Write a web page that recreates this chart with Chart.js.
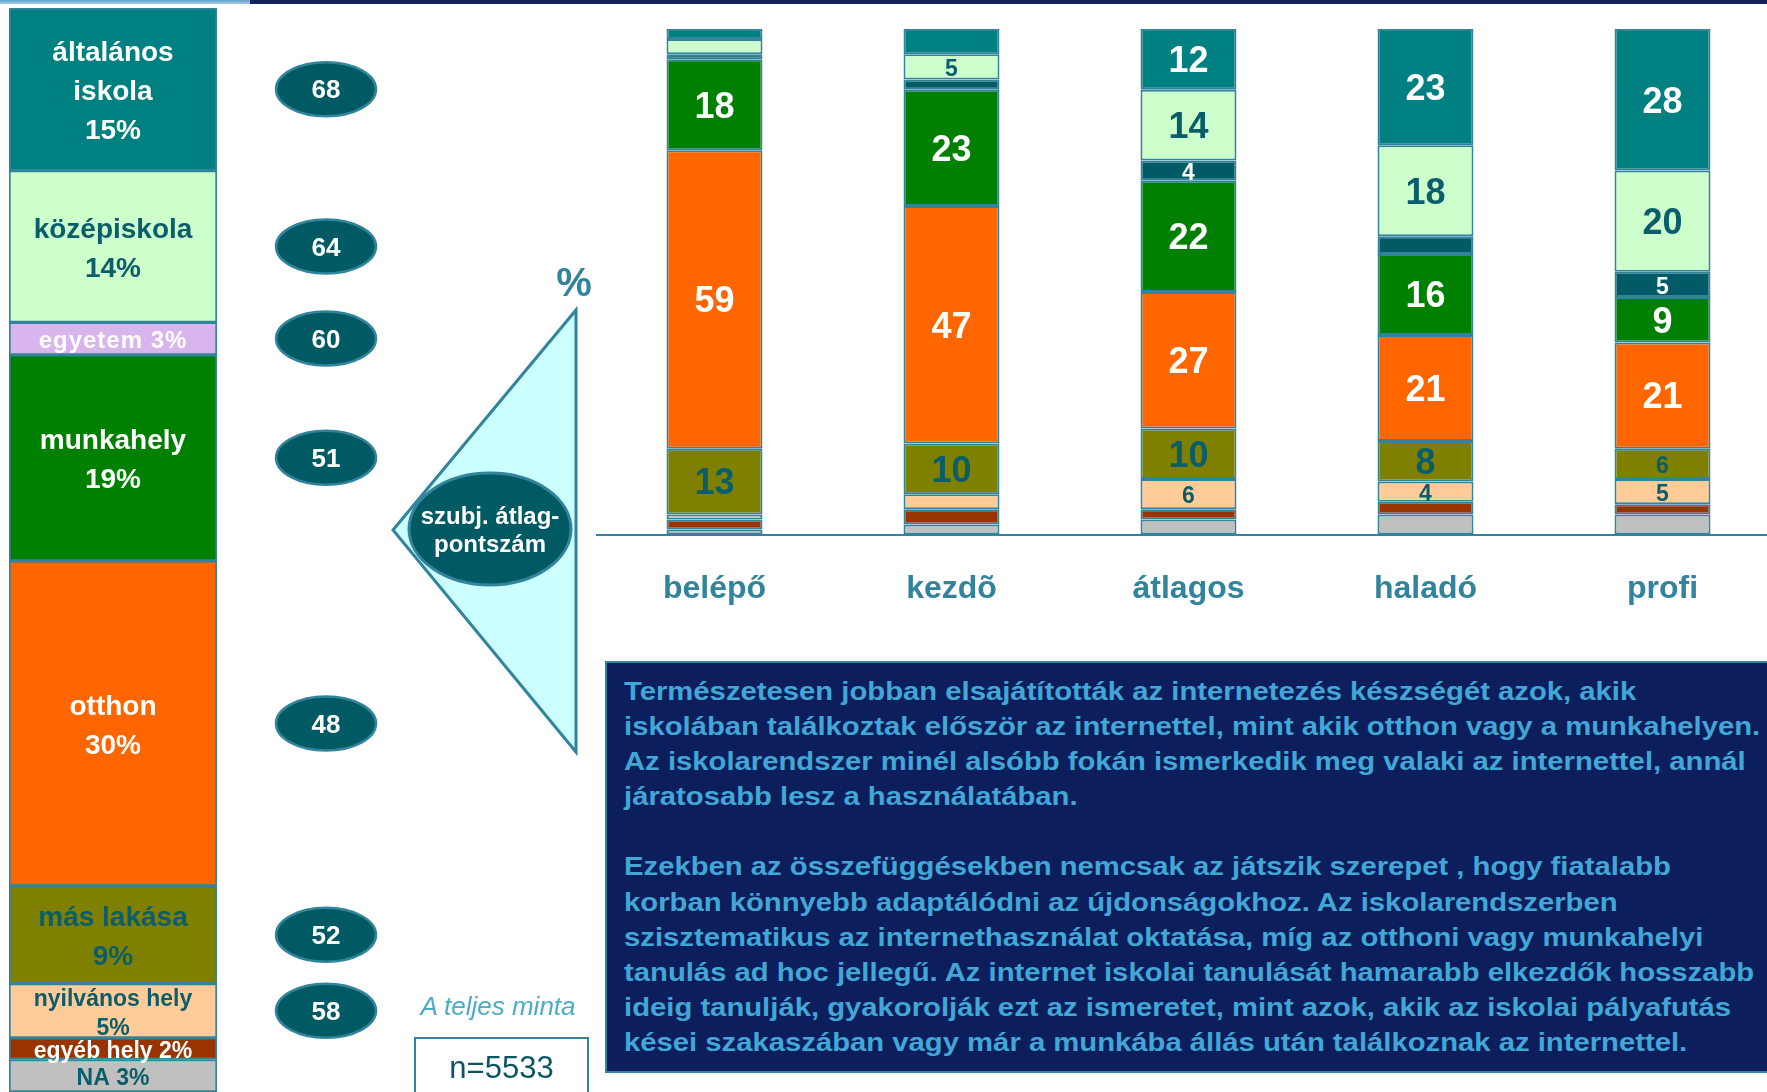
<!DOCTYPE html>
<html lang="hu">
<head>
<meta charset="utf-8">
<title>Az internet első használatának helye és a készségszint</title>
<script src="https://cdn.jsdelivr.net/npm/chart.js@4.4.1/dist/chart.umd.min.js"></script>
<style>
    html, body {
        margin: 0;
        padding: 0;
        background: #fff;
    }
    body {
        position: relative;
        width: 1767px;
        height: 1092px;
        overflow: hidden;
        font-family: "Liberation Sans", Arial, sans-serif;
    }
    .csik-vilagos {
        position: absolute; left: 0; top: 0; width: 250px; height: 4px;
        background: linear-gradient(#5f9fcc, #a8cbe4);
    }
    .csik-sotet {
        position: absolute; left: 250px; top: 0; width: 1517px; height: 4px;
        background: #11225f;
    }
    #chartHely { position: absolute; left: 0; top: 0; }
    #chartSzint { position: absolute; left: 596px; top: 0; }
    #dekor { position: absolute; left: 0; top: 0; }
    .szoveg-doboz {
        position: absolute;
        left: 605px; top: 661px;
        width: 1200px; height: 412px;
        background: #0c1f5c;
        border: 2px solid #2f86a8;
        box-sizing: border-box;
        padding: 11px 0 0 17px;
        color: #42a6d6;
        font-weight: bold;
        font-size: 26px;
        line-height: 35.1px;
        white-space: nowrap;
    }
    .szoveg-doboz .nyujtott {
        transform: scaleX(1.125);
        transform-origin: 0 0;
    }
    .minta {
        position: absolute;
        left: 380px; top: 991px; width: 236px;
        text-align: center;
        font-style: italic;
        font-size: 26px;
        color: #4bacc6;
    }
    .n-doboz {
        position: absolute;
        left: 414px; top: 1037px;
        width: 175px; height: 70px;
        border: 2px solid #31849b;
        box-sizing: border-box;
        text-align: center;
        font-size: 31px;
        line-height: 57px;
        color: #0b5563;
    }
</style>
</head>
<body>

<div class="csik-vilagos"></div>
<div class="csik-sotet"></div>

<canvas id="chartHely" width="400" height="1092"></canvas>

<svg id="dekor" width="600" height="800">
    <text x="574" y="285" text-anchor="middle" dominant-baseline="middle"
          font-family="Liberation Sans, Arial" font-weight="bold" font-size="40" fill="#31849b">%</text>
    <polygon points="393,530 576,310 576,752" fill="#ccffff" stroke="#31849b" stroke-width="3"/>
    <ellipse cx="490" cy="529" rx="81" ry="56" fill="#005a64" stroke="#31849b" stroke-width="3"/>
    <text x="490" y="518" text-anchor="middle" dominant-baseline="middle"
          font-family="Liberation Sans, Arial" font-weight="bold" font-size="24" fill="#fff">szubj. átlag-</text>
    <text x="490" y="546" text-anchor="middle" dominant-baseline="middle"
          font-family="Liberation Sans, Arial" font-weight="bold" font-size="24" fill="#fff">pontszám</text>
</svg>

<canvas id="chartSzint" width="1190" height="643"></canvas>

<div class="szoveg-doboz"><div class="nyujtott">
    Természetesen jobban elsajátították az internetezés készségét azok, akik<br>
    iskolában találkoztak először az internettel, mint akik otthon vagy a munkahelyen.<br>
    Az iskolarendszer minél alsóbb fokán ismerkedik meg valaki az internettel, annál<br>
    járatosabb lesz a használatában.<br>
    <br>
    Ezekben az összefüggésekben nemcsak az játszik szerepet , hogy fiatalabb<br>
    korban könnyebb adaptálódni az újdonságokhoz. Az iskolarendszerben<br>
    szisztematikus az internethasználat oktatása, míg az otthoni vagy munkahelyi<br>
    tanulás ad hoc jellegű. Az internet iskolai tanulását hamarabb elkezdők hosszabb<br>
    ideig tanulják, gyakorolják ezt az ismeretet, mint azok, akik az iskolai pályafutás<br>
    kései szakaszában vagy már a munkába állás után találkoznak az internettel.
</div></div>

<div class="minta">A teljes minta</div>
<div class="n-doboz">n=5533</div>

<script>
// ====================================================================
// Données - hol használta először az internetet (teljes minta, %)
// ====================================================================

// Bal oldali oszlop: helyek megoszlása
const helyek = ['általános iskola', 'középiskola', 'egyetem', 'munkahely', 'otthon',
                'más lakása', 'nyilvános hely', 'egyéb hely', 'NA'];
const helyArany = [15, 14, 3, 19, 30, 9, 5, 2, 3];
const helyPontszam = [68, 64, 60, 51, 48, 52, 58, null, null];
const helyFelirat = [
    ['általános', 'iskola', '15%'],
    ['középiskola', '14%'],
    ['egyetem 3%'],
    ['munkahely', '19%'],
    ['otthon', '30%'],
    ['más lakása', '9%'],
    ['nyilvános hely', '5%'],
    ['egyéb hely 2%'],
    ['NA 3%']
];

// Jobb oldali oszlopok: készségszint szerint
const szintek = ['belépő', 'kezdõ', 'átlagos', 'haladó', 'profi'];
const altalanos   = [2, 5, 12, 23, 28];
const kozepiskola = [3, 5, 14, 18, 20];
const egyetem     = [1, 2, 4, 3.5, 5];
const munkahely   = [18, 23, 22, 16, 9];
const otthon      = [59, 47, 27, 21, 21];
const masLakasa   = [13, 10, 10, 8, 6];
const nyilvanos   = [1, 3, 6, 4, 5];
const egyeb       = [2, 3, 2, 2.5, 2];
const na          = [1, 2, 3, 4, 4];

// Feliratozott értékek (null = nincs felirat)
const altalanosCimke   = [null, null, 12, 23, 28];
const kozepiskolaCimke = [null, 5, 14, 18, 20];
const egyetemCimke     = [null, null, 4, null, 5];
const munkahelyCimke   = [18, 23, 22, 16, 9];
const otthonCimke      = [59, 47, 27, 21, 21];
const masLakasaCimke   = [13, 10, 10, 8, 6];
const nyilvanosCimke   = [null, null, 6, 4, 5];
const egyebCimke       = [null, null, null, null, null];
const naCimke          = [null, null, null, null, null];

// Couleurs
const keret = '#31849b';
const sotetSzoveg = '#0a5d6b';
const helySzinek = ['#008080', '#ccffcc', '#d9b5ee', '#008000', '#ff6600',
                    '#808000', '#ffcc99', '#993300', '#c0c0c0'];
const szintSzinek = ['#008080', '#ccffcc', '#005b66', '#008000', '#ff6600',
                     '#808000', '#ffcc99', '#993300', '#c0c0c0'];
const helySzovegSzin = ['#fff', sotetSzoveg, '#fff', '#fff', '#fff',
                        sotetSzoveg, sotetSzoveg, '#fff', sotetSzoveg];
const szintSzovegSzin = ['#fff', sotetSzoveg, '#fff', '#fff', '#fff',
                         sotetSzoveg, sotetSzoveg, '#fff', sotetSzoveg];

const betu = '"Liberation Sans", Arial, sans-serif';

// ====================================================================
// Plugins
// ====================================================================

/**
 * Feliratok és pontszám-ellipszisek a bal oldali oszlophoz
 */
const helyFeliratPlugin = {
    id: 'helyFelirat',
    afterDatasetsDraw(chart) {
        const ctx = chart.ctx;
        const y = chart.scales.y;
        const x = chart.scales.x;
        const cx = x.getPixelForValue(0);
        let kum = 0;

        ctx.save();
        ctx.textAlign = 'center';
        ctx.textBaseline = 'middle';

        helyArany.forEach((v, i) => {
            const kozep = y.getPixelForValue(kum + v / 2);
            kum += v;

            // felirat
            const sorok = helyFelirat[i];
            let meret = 28, sorMagassag = 39, kerning = '0px';
            if (i === 2) { meret = 24; kerning = '1px'; }
            if (i >= 6) { meret = 23; sorMagassag = 29; }
            ctx.font = 'bold ' + meret + 'px ' + betu;
            ctx.letterSpacing = kerning;
            ctx.fillStyle = helySzovegSzin[i];
            sorok.forEach((s, k) => {
                ctx.fillText(s, cx, kozep + 3 + (k - (sorok.length - 1) / 2) * sorMagassag);
            });
            ctx.letterSpacing = '0px';

            // ellipszis a pontszámmal
            const p = helyPontszam[i];
            if (p !== null) {
                ctx.beginPath();
                ctx.ellipse(326, kozep, 50, 27, 0, 0, Math.PI * 2);
                ctx.fillStyle = '#005a64';
                ctx.fill();
                ctx.lineWidth = 2.5;
                ctx.strokeStyle = keret;
                ctx.stroke();
                ctx.font = 'bold 26px ' + betu;
                ctx.fillStyle = '#fff';
                ctx.fillText(String(p), 326, kozep + 2);
            }
        });
        ctx.restore();
    }
};

/**
 * Értékfeliratok a szint szerinti oszlopokon
 */
const szintFeliratPlugin = {
    id: 'szintFelirat',
    afterDatasetsDraw(chart) {
        const ctx = chart.ctx;
        ctx.save();
        ctx.textAlign = 'center';
        ctx.textBaseline = 'middle';
        chart.data.datasets.forEach((ds, di) => {
            const meta = chart.getDatasetMeta(di);
            meta.data.forEach((bar, i) => {
                const c = ds.cimkek[i];
                if (c === null) return;
                const meret = ds.data[i] >= 8 ? 36 : 23;
                ctx.font = 'bold ' + meret + 'px ' + betu;
                ctx.fillStyle = szintSzovegSzin[di];
                ctx.fillText(String(c), bar.x, (bar.y + bar.base) / 2 + 3);
            });
        });
        ctx.restore();
    }
};

// ====================================================================
// Graphiques
// ====================================================================

function afficherHelyek() {
    const ctx = document.getElementById('chartHely').getContext('2d');
    new Chart(ctx, {
        type: 'bar',
        data: {
            labels: [''],
            datasets: helyek.map((h, i) => ({
                label: h,
                data: [helyArany[i]],
                backgroundColor: helySzinek[i],
                borderColor: keret,
                borderWidth: 2,
                borderSkipped: false,
                categoryPercentage: 1,
                barPercentage: 1
            }))
        },
        options: {
            responsive: false,
            animation: false,
            devicePixelRatio: 1,
            layout: { padding: { left: 9, right: 183, top: 8, bottom: 0 } },
            plugins: { legend: { display: false }, tooltip: { enabled: false } },
            scales: {
                x: { stacked: true, display: false },
                y: { stacked: true, display: false, min: 0, max: 100, reverse: true }
            }
        },
        plugins: [helyFeliratPlugin]
    });
}

function afficherSzintek() {
    const sorozatok = [altalanos, kozepiskola, egyetem, munkahely, otthon,
                       masLakasa, nyilvanos, egyeb, na];
    const cimkek = [altalanosCimke, kozepiskolaCimke, egyetemCimke, munkahelyCimke,
                    otthonCimke, masLakasaCimke, nyilvanosCimke, egyebCimke, naCimke];
    const ctx = document.getElementById('chartSzint').getContext('2d');
    new Chart(ctx, {
        type: 'bar',
        data: {
            labels: szintek,
            datasets: sorozatok.map((s, i) => ({
                label: helyek[i],
                data: s,
                cimkek: cimkek[i],
                backgroundColor: szintSzinek[i],
                borderColor: keret,
                borderWidth: 2,
                borderSkipped: false,
                categoryPercentage: 1,
                barPercentage: 0.405
            }))
        },
        options: {
            responsive: false,
            animation: false,
            devicePixelRatio: 1,
            layout: { padding: { left: 0, right: 5, top: 29, bottom: 0 } },
            plugins: { legend: { display: false }, tooltip: { enabled: false } },
            scales: {
                x: {
                    stacked: true,
                    grid: { display: false, drawTicks: false },
                    border: { display: true, color: keret, width: 2 },
                    ticks: {
                        color: keret,
                        padding: 35,
                        font: { family: betu, size: 32, weight: 'bold' }
                    }
                },
                y: { stacked: true, display: false, min: 0, max: 100, reverse: true }
            }
        },
        plugins: [szintFeliratPlugin]
    });
}

afficherHelyek();
afficherSzintek();
</script>
</body>
</html>
